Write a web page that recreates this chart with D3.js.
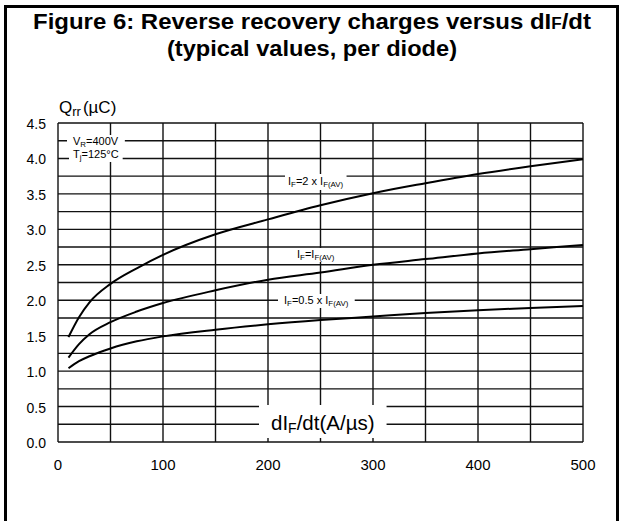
<!DOCTYPE html>
<meta charset="utf-8" />
<script src="https://d3js.org/d3.v7.js"></script>
<style>
  body { margin: 0; background: white; }
  text { font-family: "Liberation Sans", Arial, sans-serif; fill: black; }
</style>
<div id="chart_div"></div>
<script>
  // values
  var diDt = [10, 20, 30, 50, 75, 100, 150, 200, 250, 300, 350, 400, 450, 500];
  var qrr2x = [1.48, 1.76, 1.97, 2.23, 2.45, 2.64, 2.93, 3.14, 3.34, 3.51, 3.65, 3.78, 3.89, 3.99];
  var qrr1x = [1.19, 1.38, 1.52, 1.69, 1.84, 1.96, 2.14, 2.29, 2.39, 2.5, 2.58, 2.66, 2.72, 2.78];
  var qrrHalf = [1.04, 1.14, 1.21, 1.32, 1.42, 1.49, 1.585, 1.66, 1.72, 1.77, 1.82, 1.86, 1.89, 1.92];
  var yTicks = [0, 0.5, 1, 1.5, 2, 2.5, 3, 3.5, 4, 4.5];
  var xTicks = [0, 100, 200, 300, 400, 500];

  const width = 621;
  const height = 521;
  const svg = d3
    .select("#chart_div")
    .append("svg")
    .attr("width", width)
    .attr("height", height);

  // outer frame
  svg
    .append("rect")
    .attr("x", 5.5)
    .attr("y", 6.5)
    .attr("width", 612)
    .attr("height", 600)
    .attr("fill", "white")
    .attr("stroke", "black")
    .attr("stroke-width", 3);

  // title
  var t1 = svg
    .append("text")
    .attr("x", 312)
    .attr("y", 29)
    .attr("text-anchor", "middle")
    .attr("textLength", 558)
    .attr("lengthAdjust", "spacingAndGlyphs")
    .style("font-size", "22.5px")
    .style("font-weight", "bold");
  t1.append("tspan").text("Figure 6: Reverse recovery charges versus dI");
  t1.append("tspan").style("font-size", "16px").text("F");
  t1.append("tspan").text("/dt");

  svg
    .append("text")
    .attr("x", 312)
    .attr("y", 56)
    .attr("text-anchor", "middle")
    .attr("textLength", 290)
    .attr("lengthAdjust", "spacingAndGlyphs")
    .style("font-size", "22.5px")
    .style("font-weight", "bold")
    .text("(typical values, per diode)");

  const x = d3.scaleLinear().domain([0, 500]).range([58, 583]);
  const y = d3.scaleLinear().domain([0, 4.5]).range([442, 123]);

  // grid
  var grid = svg.append("g");
  grid
    .selectAll(".hgrid")
    .data(d3.range(0, 4.51, 0.25))
    .enter()
    .append("line")
    .attr("x1", x(0))
    .attr("x2", x(500))
    .attr("y1", (d) => y(d))
    .attr("y2", (d) => y(d))
    .attr("stroke", "#111")
    .attr("stroke-width", 1.4);
  grid
    .selectAll(".vgrid")
    .data(d3.range(0, 501, 50))
    .enter()
    .append("line")
    .attr("x1", (d) => x(d))
    .attr("x2", (d) => x(d))
    .attr("y1", y(0))
    .attr("y2", y(4.5))
    .attr("stroke", "#111")
    .attr("stroke-width", 1.4);

  // tick labels
  svg
    .selectAll(".ylab")
    .data(yTicks)
    .enter()
    .append("text")
    .attr("x", 46)
    .attr("y", (d) => y(d) + 6)
    .attr("text-anchor", "end")
    .style("font-size", "14px")
    .text((d) => d3.format(".1f")(d));

  svg
    .selectAll(".xlab")
    .data(xTicks)
    .enter()
    .append("text")
    .attr("x", (d) => x(d))
    .attr("y", 470)
    .attr("text-anchor", "middle")
    .style("font-size", "15px")
    .text((d) => d);

  // y axis label
  var ql = svg
    .append("text")
    .attr("x", 59)
    .attr("y", 113)
    .style("font-size", "17px");
  ql.append("tspan").text("Q");
  ql.append("tspan").style("font-size", "13px").attr("dy", 3).text("rr");
  ql.append("tspan").attr("dy", -3).attr("dx", 2).text("(µC)");

  // text on white patch, used for the labels sitting on the grid
  function boxedLabel(px, py, parts, size, pad) {
    var g = svg.append("g");
    var bg = g.append("rect").attr("fill", "white");
    var t = g
      .append("text")
      .attr("x", px)
      .attr("y", py)
      .style("font-size", size + "px");
    parts.forEach(function (p) {
      var sp = t.append("tspan").text(p.s);
      if (p.sub) sp.style("font-size", size * 0.72 + "px").attr("dy", size * 0.18);
      if (p.up) sp.attr("dy", -size * 0.18);
    });
    var b = t.node().getBBox();
    bg.attr("x", b.x - pad[0])
      .attr("y", b.y - pad[1])
      .attr("width", b.width + 2 * pad[0])
      .attr("height", b.height + 2 * pad[1]);
    return g;
  }

  boxedLabel(73, 145, [{ s: "V" }, { s: "R", sub: true }, { s: "=400V", up: true }], 11, [6, 0]);
  boxedLabel(73, 158, [{ s: "T" }, { s: "j", sub: true }, { s: "=125°C", up: true }], 11, [4, 0]);

  // curves
  var line = d3
    .line()
    .x((d) => x(d[0]))
    .y((d) => y(d[1]))
    .curve(d3.curveMonotoneX);

  [qrr2x, qrr1x, qrrHalf].forEach(function (s) {
    svg
      .append("path")
      .datum(diDt.map((d, i) => [d, s[i]]))
      .attr("d", line)
      .attr("fill", "none")
      .attr("stroke", "black")
      .attr("stroke-width", 2);
  });

  boxedLabel(288, 185, [{ s: "I" }, { s: "F", sub: true }, { s: "=2 x I", up: true }, { s: "F(AV)", sub: true }], 11, [3, 1]);
  boxedLabel(297, 258, [{ s: "I" }, { s: "F", sub: true }, { s: "=I", up: true }, { s: "F(AV)", sub: true }], 11, [1, 0]);
  boxedLabel(284, 304, [{ s: "I" }, { s: "F", sub: true }, { s: "=0.5 x I", up: true }, { s: "F(AV)", sub: true }], 11, [6, 0]);

  // x axis title sitting on the grid
  var xt = svg.append("g");
  var xbg = xt.append("rect").attr("fill", "white");
  var xtt = xt
    .append("text")
    .attr("x", 271)
    .attr("y", 430)
    .style("font-size", "20.5px");
  xtt.append("tspan").text("dI");
  xtt.append("tspan").style("font-size", "14px").attr("dy", 3).text("F");
  xtt.append("tspan").attr("dy", -3).text("/dt(A/µs)");
  var xb = xtt.node().getBBox();
  xbg.attr("x", xb.x - 12)
    .attr("y", 405)
    .attr("width", xb.width + 24)
    .attr("height", 33);
</script>
